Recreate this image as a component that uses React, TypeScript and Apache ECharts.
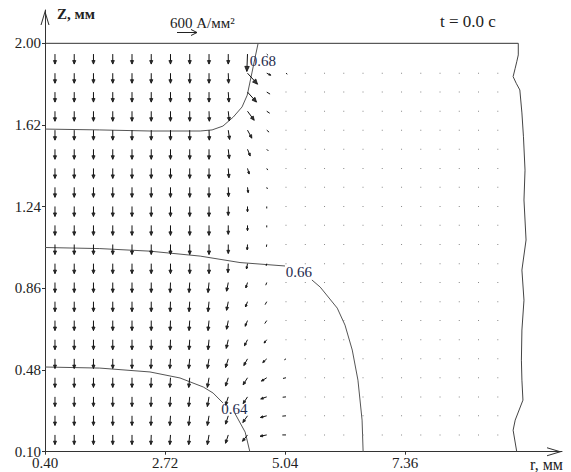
import React, { useEffect, useRef } from "react";
import * as echarts from "echarts";

// ---- axis ticks ----
const xTicks = [0.4, 2.72, 5.04, 7.36];
const yTicks = [0.1, 0.48, 0.86, 1.24, 1.62, 2.0];

// ---- vector grid (r, z in mm) ----
const rGrid = [0.593, 0.965, 1.337, 1.71, 2.082, 2.454, 2.826, 3.198, 3.571, 3.943, 4.315, 4.687, 5.059, 5.432, 5.804, 6.176, 6.548, 6.92, 7.293, 7.665, 8.037, 8.409, 8.781, 9.154];
const zGrid = [1.95, 1.861, 1.773, 1.684, 1.596, 1.507, 1.418, 1.33, 1.241, 1.153, 1.064, 0.975, 0.887, 0.798, 0.71, 0.621, 0.532, 0.444, 0.355, 0.267, 0.178];

// ---- current density, radial component jr (A/mm²), one row per zGrid entry ----
const jrRows = [
  [0, 0, 0, 0, 0, 0, 0, 0, 0, 0, -20, 40, 0, 0, 0, 0, 0, 0, 0, 0, 0, 0, 0, 0],
  [0, 0, 0, 0, 0, 0, 0, 0, 0, 10, 300, 120, 40, 0, 0, 0, 0, 0, 0, 0, 0, 0, 0, 0],
  [0, 0, 0, 0, 0, 0, 0, 0, 0, 20, 270, 100, 35, 0, 0, 0, 0, 0, 0, 0, 0, 0, 0, 0],
  [0, 0, 0, 0, 0, 0, 0, 0, 10, 30, 200, 90, 30, 0, 0, 0, 0, 0, 0, 0, 0, 0, 0, 0],
  [0, 0, 0, 0, 0, 0, 0, 0, 10, 40, 130, 70, 25, 0, 0, 0, 0, 0, 0, 0, 0, 0, 0, 0],
  [0, 0, 0, 0, 0, 0, 0, 0, 0, 30, 80, 50, 15, 0, 0, 0, 0, 0, 0, 0, 0, 0, 0, 0],
  [0, 0, 0, 0, 0, 0, 0, 0, 0, 20, 50, 30, 15, 0, 0, 0, 0, 0, 0, 0, 0, 0, 0, 0],
  [0, 0, 0, 0, 0, 0, 0, 0, 0, 10, 20, 20, 15, 0, 0, 0, 0, 0, 0, 0, 0, 0, 0, 0],
  [0, 0, 0, 0, 0, 0, 0, 0, 0, 0, 0, 0, 0, 0, 0, 0, 0, 0, 0, 0, 0, 0, 0, 0],
  [0, 0, 0, 0, 0, 0, 0, 0, 0, 0, 0, 0, 0, 0, 0, 0, 0, 0, 0, 0, 0, 0, 0, 0],
  [0, 0, 0, 0, 0, 0, 0, 0, 0, 0, -10, -10, 0, 0, 0, 0, 0, 0, 0, 0, 0, 0, 0, 0],
  [0, 0, 0, 0, 0, 0, 0, 0, 0, -10, -30, -20, 0, 0, 0, 0, 0, 0, 0, 0, 0, 0, 0, 0],
  [0, 0, 0, 0, 0, 0, -10, -20, -30, -50, -50, -30, -15, 0, 0, 0, 0, 0, 0, 0, 0, 0, 0, 0],
  [0, 0, 0, 0, 0, 0, -10, -20, -30, -50, -60, -50, -15, 0, 0, 0, 0, 0, 0, 0, 0, 0, 0, 0],
  [0, 0, 0, 0, 0, 0, -10, -20, -30, -50, -70, -60, -15, 0, 0, 0, 0, 0, 0, 0, 0, 0, 0, 0],
  [0, 0, 0, 0, 0, 0, -10, -20, -30, -60, -90, -80, -30, 0, 0, 0, 0, 0, 0, 0, 0, 0, 0, 0],
  [0, 0, 0, 0, 0, -10, -20, -30, -50, -80, -110, -120, -50, 0, 0, 0, 0, 0, 0, 0, 0, 0, 0, 0],
  [0, 0, 0, 0, 0, -10, -20, -30, -50, -80, -130, -160, -90, 0, 0, 0, 0, 0, 0, 0, 0, 0, 0, 0],
  [0, 0, 0, 0, 0, -10, -20, -30, -50, -80, -130, -180, -100, 0, 0, 0, 0, 0, 0, 0, 0, 0, 0, 0],
  [0, 0, 0, 0, 0, -10, -20, -30, -50, -80, -140, -190, -110, 0, 0, 0, 0, 0, 0, 0, 0, 0, 0, 0],
  [0, 0, 0, 0, 0, -10, -20, -30, -50, -80, -150, -200, -110, 0, 0, 0, 0, 0, 0, 0, 0, 0, 0, 0],
];

// ---- current density, axial component jz (A/mm²) ----
const jzRows = [
  [-300, -300, -300, -300, -300, -300, -300, -300, -300, -300, -520, -40, 0, 0, 0, 0, 0, 0, 0, 0, 0, 0, 0, 0],
  [-300, -300, -300, -300, -300, -300, -300, -300, -300, -300, -330, -60, -30, -10, -10, -10, -10, -10, -10, -10, -10, -10, -10, -10],
  [-300, -300, -300, -300, -300, -300, -300, -300, -300, -300, -300, -60, -25, -10, -10, -10, -10, -10, -10, -10, -10, -10, -10, -10],
  [-300, -300, -300, -300, -300, -300, -300, -300, -300, -290, -270, -60, -25, -10, -10, -10, -10, -10, -10, -10, -10, -10, -10, -10],
  [-300, -300, -300, -300, -300, -300, -300, -300, -300, -280, -240, -60, -25, -10, -10, -10, -10, -10, -10, -10, -10, -10, -10, -10],
  [-300, -300, -300, -300, -300, -300, -300, -300, -300, -280, -200, -50, -20, -10, -10, -10, -10, -10, -10, -10, -10, -10, -10, -10],
  [-300, -300, -300, -300, -300, -300, -300, -300, -300, -280, -170, -50, -20, -10, -10, -10, -10, -10, -10, -10, -10, -10, -10, -10],
  [-300, -300, -300, -300, -300, -300, -300, -300, -300, -280, -160, -50, -20, -10, -10, -10, -10, -10, -10, -10, -10, -10, -10, -10],
  [-300, -300, -300, -300, -300, -300, -300, -300, -300, -270, -160, -60, -20, -10, -10, -10, -10, -10, -10, -10, -10, -10, -10, -10],
  [-300, -300, -300, -300, -300, -300, -300, -300, -300, -270, -160, -60, -20, -10, -10, -10, -10, -10, -10, -10, -10, -10, -10, -10],
  [-300, -300, -300, -300, -300, -300, -300, -300, -300, -270, -160, -70, -20, -10, -10, -10, -10, -10, -10, -10, -10, -10, -10, -10],
  [-300, -300, -300, -300, -300, -300, -300, -300, -300, -270, -160, -70, -20, -10, -10, -10, -10, -10, -10, -10, -10, -10, -10, -10],
  [-300, -300, -300, -300, -300, -300, -300, -300, -300, -260, -160, -80, -25, -10, -10, -10, -10, -10, -10, -10, -10, -10, -10, -10],
  [-300, -300, -300, -300, -300, -300, -300, -300, -300, -260, -160, -90, -25, -10, -10, -10, -10, -10, -10, -10, -10, -10, -10, -10],
  [-300, -300, -300, -300, -300, -300, -300, -300, -300, -260, -170, -90, -25, -10, -10, -10, -10, -10, -10, -10, -10, -10, -10, -10],
  [-300, -300, -300, -300, -300, -300, -300, -300, -300, -260, -180, -100, -30, -10, -10, -10, -10, -10, -10, -10, -10, -10, -10, -10],
  [-290, -290, -290, -290, -290, -290, -290, -290, -290, -260, -200, -110, -30, -10, -10, -10, -10, -10, -10, -10, -10, -10, -10, -10],
  [-290, -290, -290, -290, -290, -290, -290, -290, -290, -250, -210, -100, -20, -10, -10, -10, -10, -10, -10, -10, -10, -10, -10, -10],
  [-290, -290, -290, -290, -290, -290, -290, -290, -290, -250, -200, -60, -10, -10, -10, -10, -10, -10, -10, -10, -10, -10, -10, -10],
  [-290, -290, -290, -290, -290, -290, -290, -290, -290, -250, -200, -50, -10, -10, -10, -10, -10, -10, -10, -10, -10, -10, -10, -10],
  [-290, -290, -290, -290, -290, -290, -290, -290, -290, -250, -190, -40, 0, -10, -10, -10, -10, -10, -10, -10, -10, -10, -10, -10],
];

// ---- contour lines [r, z] ----
const contour068 = [[0.4, 1.601], [1.46, 1.597], [2.43, 1.592], [3.4, 1.592], [3.63, 1.597], [3.84, 1.615], [4.04, 1.657], [4.21, 1.704], [4.31, 1.759], [4.4, 1.862], [4.46, 1.932], [4.52, 2.0]];
const contour066a = [[0.4, 1.05], [1.46, 1.045], [2.43, 1.033], [3.4, 1.01], [4.17, 0.98], [5.04, 0.964]];
const contour066b = [[5.56, 0.899], [5.72, 0.866], [6.05, 0.768], [6.2, 0.689], [6.34, 0.573], [6.45, 0.433], [6.53, 0.247], [6.55, 0.1]];
const contour064a = [[0.4, 0.494], [1.46, 0.489], [2.43, 0.471], [3.01, 0.443], [3.46, 0.401], [3.65, 0.373], [3.84, 0.327]];
const contour064b = [[4.07, 0.279], [4.27, 0.191], [4.36, 0.1]];
const contourLabelText = ["0.68", "0.66", "0.64"];
const contourLabelR = [4.61, 5.31, 4.06];
const contourLabelZ = [1.92, 0.936, 0.298];

// ---- domain boundary ----
const topEdge = [[0.4, 2.0], [9.55, 2.0]];
const rightEdge = [[9.55, 2.0], [9.55, 1.946], [9.52, 1.914], [9.49, 1.884], [9.45, 1.845], [9.51, 1.814], [9.58, 1.783], [9.62, 1.676], [9.65, 1.565], [9.68, 1.41], [9.66, 1.271], [9.7, 1.085], [9.62, 0.945], [9.66, 0.805], [9.62, 0.666], [9.61, 0.526], [9.62, 0.433], [9.64, 0.34], [9.49, 0.247], [9.45, 0.2], [9.52, 0.1]];

const scaleValue = 600; // A/mm² for the legend arrow
const PX_PER_A = 1 / 30; // arrow length in px per A/mm²

const FONT = "Liberation Serif";
const ARROW_SYMBOL = "path://M0,20 L6,0 L12,20 L10.6,20 L6,4.7 L1.4,20 Z";

export default function App() {
  const ref = useRef<HTMLDivElement>(null);
  useEffect(() => {
    if (!ref.current) return;
    const chart = echarts.init(ref.current, null, { renderer: "svg" });

    const vectors: number[][] = [];
    zGrid.forEach((z, j) => {
      rGrid.forEach((r, k) => {
        vectors.push([r, z, jrRows[j][k], jzRows[j][k]]);
      });
    });

    const renderArrow = (params: any, api: any) => {
      const r = api.value(0), z = api.value(1), jr = api.value(2), jz = api.value(3);
      const p = api.coord([r, z]);
      const dx = jr * PX_PER_A, dy = -jz * PX_PER_A;
      const L = Math.hypot(dx, dy);
      if (L === 0) return { type: "group", children: [] };
      if (L < 1.5) {
        return { type: "rect", shape: { x: p[0] - 0.5, y: p[1] - 0.5, width: 1, height: 1 }, style: { fill: "#888" } };
      }
      const tx = p[0] + dx, ty = p[1] + dy;
      const ux = dx / L, uy = dy / L;
      const children: any[] = [
        { type: "line", shape: { x1: p[0], y1: p[1], x2: tx, y2: ty }, style: { stroke: "#111", lineWidth: 1 } },
      ];
      if (L >= 4) {
        const h = Math.min(5, 0.3 * L + 0.5), w = h * 0.45;
        children.push({
          type: "polygon",
          shape: { points: [[tx - h * ux - w * uy, ty - h * uy + w * ux], [tx, ty], [tx - h * ux + w * uy, ty - h * uy - w * ux]] },
          style: { stroke: "#111", lineWidth: 0.8, fill: "#333" },
        });
      }
      return { type: "group", children };
    };

    const renderLabel = (params: any, api: any) => {
      const p = api.coord([api.value(0), api.value(1)]);
      return {
        type: "text",
        x: p[0], y: p[1],
        style: { text: contourLabelText[params.dataIndex], fontFamily: FONT, fontSize: 15, fill: "#1f2b4d", align: "center", verticalAlign: "middle" },
      };
    };

    const lineSeries = (data: number[][], color: string) => ({
      type: "line", data, symbol: "none", silent: true,
      lineStyle: { color, width: 1 }, z: 2,
    });

    const scaleLen = scaleValue * PX_PER_A;
    const ax0 = 177, ay = 32.5;

    chart.setOption({
      animation: false,
      textStyle: { fontFamily: FONT },
      grid: { left: 45, right: 9, top: 10, bottom: 20.3 },
      xAxis: {
        type: "value", min: 0.4, max: 10.395,
        axisLine: { onZero: false, lineStyle: { color: "#333", width: 1 }, symbol: ["none", ARROW_SYMBOL], symbolSize: [9, 15], symbolOffset: [0, -7.5] },
        axisTick: { show: true, length: 3, customValues: xTicks, lineStyle: { color: "#333" } },
        axisLabel: { customValues: xTicks, formatter: (v: number) => v.toFixed(2), color: "#222", fontFamily: FONT, fontSize: 15, margin: 4 },
        splitLine: { show: false },
      },
      yAxis: {
        type: "value", min: 0.1, max: 2.155,
        axisLine: { onZero: false, lineStyle: { color: "#333", width: 1 }, symbol: ["none", ARROW_SYMBOL], symbolSize: [10, 15], symbolOffset: [0, -7.5] },
        axisTick: { show: true, length: 3, customValues: yTicks, lineStyle: { color: "#333" } },
        axisLabel: { customValues: yTicks, formatter: (v: number) => v.toFixed(2), color: "#222", fontFamily: FONT, fontSize: 15, margin: 4 },
        splitLine: { show: false },
      },
      series: [
        lineSeries(topEdge, "#333"),
        lineSeries(rightEdge, "#444"),
        lineSeries(contour068, "#555"),
        lineSeries(contour066a, "#555"),
        lineSeries(contour066b, "#555"),
        lineSeries(contour064a, "#555"),
        lineSeries(contour064b, "#555"),
        { type: "custom", renderItem: renderArrow, data: vectors, clip: false, silent: true, z: 3 },
        { type: "custom", renderItem: renderLabel, data: contourLabelR.map((r, i) => [r, contourLabelZ[i]]), clip: false, silent: true, z: 4 },
      ],
      graphic: [
        { type: "text", x: 57, y: 14, style: { text: "Z, мм", fontFamily: FONT, fontSize: 15, fontWeight: "bold", fill: "#222", verticalAlign: "middle" } },
        { type: "text", x: 170, y: 23, style: { text: "600 А/мм²", fontFamily: FONT, fontSize: 15, fill: "#222", verticalAlign: "middle" } },
        { type: "line", shape: { x1: ax0, y1: ay, x2: ax0 + scaleLen, y2: ay }, style: { stroke: "#222", lineWidth: 1 } },
        { type: "polyline", shape: { points: [[ax0 + scaleLen - 6, ay - 3], [ax0 + scaleLen, ay], [ax0 + scaleLen - 6, ay + 3]] }, style: { stroke: "#222", lineWidth: 1, fill: null } },
        { type: "text", x: 440, y: 21, style: { text: "t = 0.0 c", fontFamily: FONT, fontSize: 17, fill: "#222", verticalAlign: "middle" } },
        { type: "text", x: 530, y: 464, style: { text: "r, мм", fontFamily: FONT, fontSize: 16, fill: "#222", verticalAlign: "middle" } },
      ],
    });
    return () => chart.dispose();
  }, []);
  return <div ref={ref} style={{ position: "absolute", left: 0, top: 0, width: 571, height: 472, background: "#fff" }} />;
}
